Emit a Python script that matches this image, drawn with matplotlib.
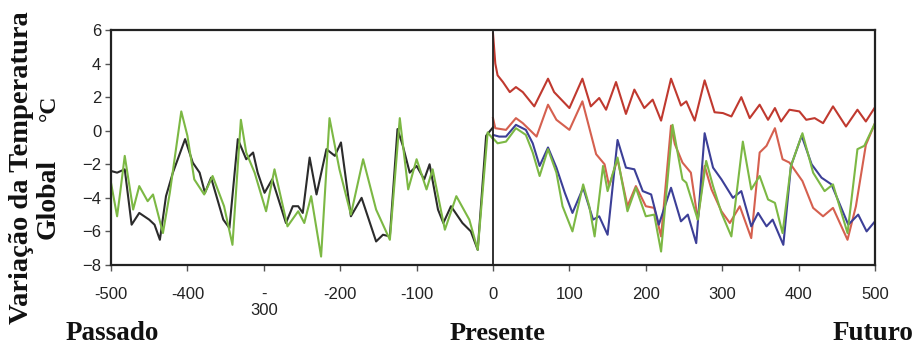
import matplotlib.pyplot as plt

# Passado (anos): reconstrucao (preto) e modelo (verde)
past_black_x = [-500, -492, -482, -473, -463, -450, -443, -436, -428, -419, -403, -393, -384, -377,
                -369, -353, -345, -334, -323, -314, -308, -299, -289, -271, -262, -255, -249, -240,
                -231, -218, -207, -199, -186, -172, -153, -144, -135, -125, -118, -109, -100, -90,
                -83, -72, -65, -55, -40, -29, -20, -9, 0]
past_black_y = [-2.4, -2.5, -2.3, -5.6, -4.9, -5.3, -5.6, -6.5, -3.9, -2.5, -0.5, -1.9, -2.5, -3.7,
                -2.8, -5.3, -5.8, -0.5, -1.7, -1.3, -2.5, -3.7, -2.9, -5.5, -4.5, -4.5, -4.9, -1.6,
                -3.8, -1.1, -1.5, -0.7, -5.1, -4.0, -6.6, -6.2, -6.3, 0.1, -0.9, -2.5, -2.1, -2.9,
                -2.0, -4.7, -5.5, -4.5, -5.5, -6.0, -7.1, -0.3, 0.2]

past_green_x = [-500, -492, -488, -482, -471, -463, -452, -445, -432, -423, -408, -400, -391, -378,
                -367, -352, -341, -330, -323, -312, -297, -286, -269, -255, -247, -238, -225, -214,
                -201, -186, -170, -153, -135, -122, -111, -100, -87, -79, -63, -48, -31, -20, -7, 0]
past_green_y = [-3.1, -5.1, -3.7, -1.5, -4.7, -3.3, -4.2, -3.8, -6.1, -3.7, 1.15, -0.3, -2.9, -3.8,
                -2.7, -4.5, -6.8, 0.65, -1.3, -2.5, -4.8, -2.3, -5.7, -4.8, -5.5, -3.9, -7.5, 0.75,
                -2.3, -5.0, -1.7, -4.7, -6.5, 0.75, -3.5, -1.7, -3.5, -2.3, -5.9, -3.9, -5.3, -7.1,
                -0.1, -0.5]

# Futuro: quatro cenarios
red_hi_x = [0, 3, 6, 13, 22, 30, 39, 54, 72, 80, 100, 117, 128, 139, 148, 161, 174, 185, 198, 209,
            220, 233, 246, 253, 264, 277, 290, 301, 312, 325, 336, 349, 360, 369, 377, 388, 401,
            410, 421, 432, 445, 462, 477, 488, 500]
red_hi_y = [5.8, 4.0, 3.3, 2.9, 2.3, 2.6, 2.3, 1.45, 3.1, 2.3, 1.35, 3.1, 1.45, 1.95, 1.25, 2.9, 1.0,
            2.45, 1.35, 1.85, 0.6, 3.1, 1.5, 1.75, 0.6, 3.0, 1.1, 1.05, 0.85, 2.0, 0.75, 1.55, 0.65,
            1.35, 0.55, 1.25, 1.15, 0.65, 0.75, 0.45, 1.45, 0.25, 1.25, 0.55, 1.4]

red_lo_x = [0, 3, 17, 30, 39, 57, 72, 83, 100, 117, 135, 146, 152, 163, 176, 187, 200, 211, 220,
            233, 238, 248, 259, 268, 277, 286, 299, 310, 323, 338, 349, 358, 369, 379, 388, 405,
            419, 432, 445, 464, 475, 488, 500]
red_lo_y = [0.75, 0.15, 0.05, 0.75, 0.45, -0.35, 1.55, 0.65, 0.05, 1.75, -1.4, -2.0, -3.3, -1.7,
            -4.5, -3.3, -4.5, -4.6, -6.3, 0.3, -0.8, -1.9, -2.5, -5.3, -2.1, -3.5, -4.8, -5.5,
            -4.5, -6.4, -1.3, -0.9, 0.15, -1.7, -1.9, -3.0, -4.6, -5.1, -4.6, -6.5, -4.5, -0.85,
            0.45]

blue_x = [0, 8, 17, 30, 43, 52, 61, 72, 83, 94, 104, 118, 131, 139, 150, 163, 174, 185, 196, 207,
          217, 233, 246, 255, 266, 277, 288, 299, 314, 325, 338, 347, 358, 366, 380, 390, 404, 417,
          430, 443, 454, 465, 478, 489, 500]
blue_y = [-0.25, -0.35, -0.35, 0.35, 0.05, -0.75, -2.1, -1.0, -2.2, -3.7, -4.9, -3.4, -5.3, -5.1,
          -6.2, -0.55, -2.2, -2.3, -3.6, -3.8, -5.6, -3.4, -5.4, -5.0, -6.7, -0.15, -2.2, -2.9,
          -4.0, -3.6, -5.7, -4.9, -5.7, -5.3, -6.8, -2.1, -0.3, -2.0, -2.8, -3.2, -4.4, -5.6, -5.0,
          -6.0, -5.4]

green_fut_x = [0, 6, 17, 30, 43, 52, 61, 72, 83, 91, 104, 118, 126, 133, 144, 150, 163, 176, 187,
               200, 211, 220, 235, 248, 253, 268, 279, 288, 299, 312, 327, 338, 349, 360, 369, 379,
               390, 405, 419, 434, 445, 464, 477, 486, 500]
green_fut_y = [-0.45, -0.75, -0.65, 0.15, -0.25, -1.3, -2.7, -1.1, -2.5, -4.5, -6.0, -3.2, -4.5,
               -6.3, -2.1, -3.6, -1.6, -4.8, -3.4, -5.1, -5.0, -7.2, 0.35, -2.9, -3.1, -5.3, -1.8,
               -3.3, -4.9, -6.3, -0.65, -3.5, -2.7, -4.1, -4.3, -6.1, -2.1, -0.15, -2.5, -3.6, -3.2,
               -6.1, -1.1, -0.9, 0.45]

x_ticks = [-500, -400, -300, -200, -100, 0, 100, 200, 300, 400, 500]
x_labels = ['-500', '-400', '-\n300', '-200', '-100', '0', '100', '200', '300', '400', '500']
y_ticks = [6, 4, 2, 0, -2, -4, -6, -8]

fig = plt.figure(figsize=(9.15, 3.45), dpi=100)
ax = fig.add_axes([0.1213, 0.232, 0.835, 0.681])

lw = 1.5
ax.plot(past_black_x, past_black_y, color='#2b2b2b', lw=lw)
ax.plot(past_green_x, past_green_y, color='#7cb844', lw=lw)
ax.plot(red_hi_x, red_hi_y, color='#c0392f', lw=lw)
ax.plot(red_lo_x, red_lo_y, color='#d5604f', lw=lw)
ax.plot(blue_x, blue_y, color='#3c3f97', lw=lw)
ax.plot(green_fut_x, green_fut_y, color='#7cb844', lw=lw)
ax.axvline(0, color='#222222', lw=1.3)

ax.set_xlim(-500, 500)
ax.set_ylim(-8, 6)
ax.set_xticks(x_ticks)
ax.set_xticklabels(x_labels, linespacing=1.1)
ax.set_yticks(y_ticks)
for lab in ax.get_xticklabels() + ax.get_yticklabels():
    lab.set_family('Liberation Sans')
    lab.set_fontsize(12)
    lab.set_color('#222222')
ax.get_xticklabels()[2].set_va('top')
ax.tick_params(axis='both', direction='out', length=4, width=1, color='#555555')
ax.tick_params(axis='x', pad=12)
ax.tick_params(axis='y', pad=3)
for s in ax.spines.values():
    s.set_color('#222222')
    s.set_linewidth(1.6)

serif = dict(family='Liberation Serif', fontweight='bold', color='#111111')
fig.text(22 / 915, 1 - 168 / 345, 'Variação da Temperatura', rotation=90,
         ha='center', va='center', fontsize=20.5, **serif)
fig.text(48 / 915, 1 - 199 / 345, 'Global', rotation=90,
         ha='center', va='center', fontsize=20, **serif)
fig.text(49 / 915, 1 - 108 / 345, '°C', rotation=90,
         ha='center', va='center', fontsize=17, **serif)

fig.text(66 / 915, 1 - 333 / 345, 'Passado', ha='left', va='center', fontsize=19.5, **serif)
fig.text(497 / 915, 1 - 333 / 345, 'Presente', ha='center', va='center', fontsize=19, **serif)
fig.text(913 / 915, 1 - 333 / 345, 'Futuro', ha='right', va='center', fontsize=19.5, **serif)

fig.savefig('out.png', dpi=100)
